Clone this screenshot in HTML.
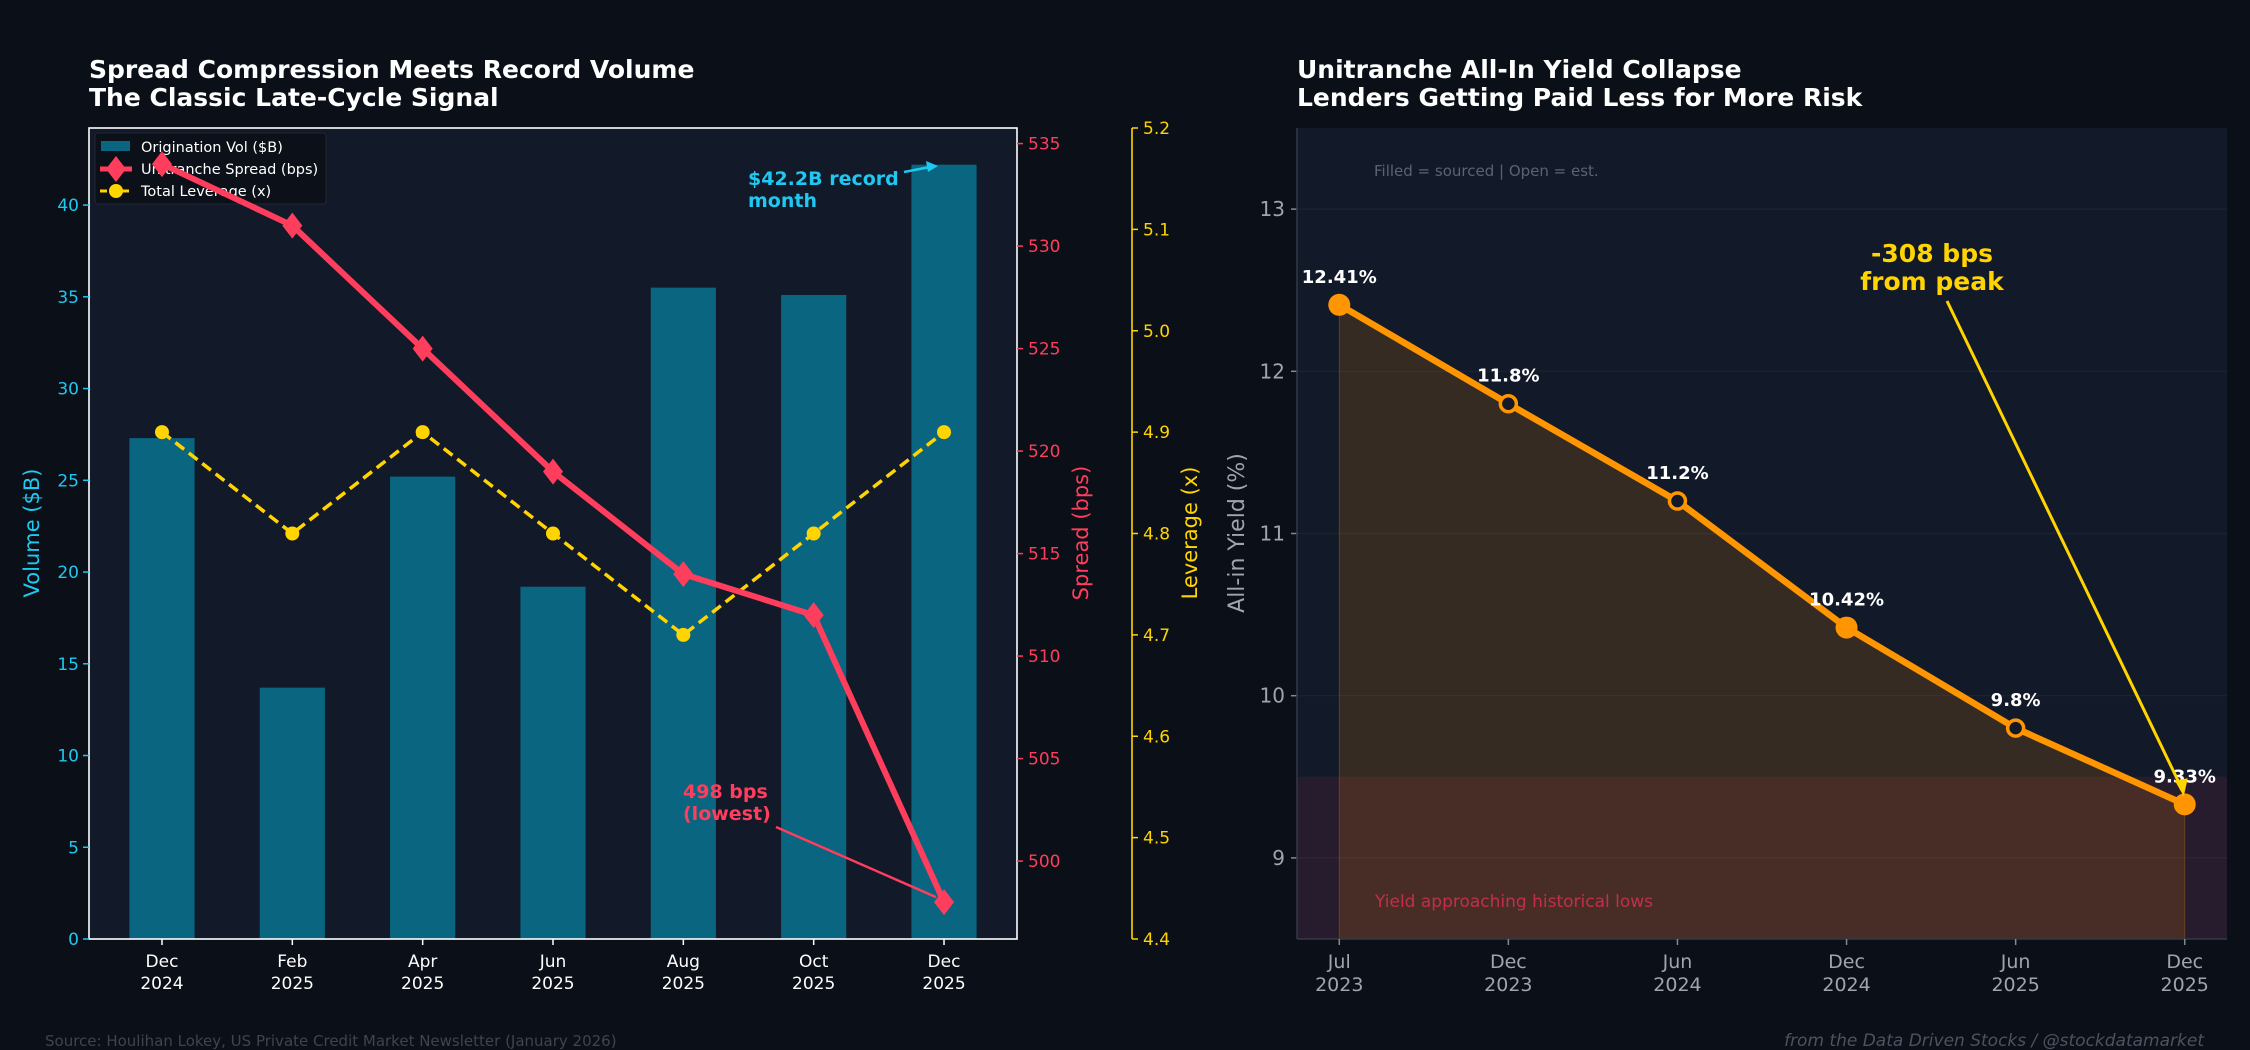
<!DOCTYPE html>
<html><head><meta charset="utf-8"><style>
html,body{margin:0;padding:0;background:#0b0f17;}
svg{display:block;font-family:"DejaVu Sans","Liberation Sans",sans-serif;}
</style></head><body>
<svg id="s" width="2250" height="1050" viewBox="0 0 2250 1050">
<rect width="2250" height="1050" fill="#0b0f17"/>
<g id="L"></g>
<g id="R"></g>
<text x="45" y="1046" font-size="15" fill="#3e4450">Source: Houlihan Lokey, US Private Credit Market Newsletter (January 2026)</text>
<text x="2204" y="1046" font-size="17" fill="#4c5260" font-style="italic" text-anchor="end">from the Data Driven Stocks / @stockdatamarket</text>
</svg>
<script>
const months=["Dec\n2024","Feb\n2025","Apr\n2025","Jun\n2025","Aug\n2025","Oct\n2025","Dec\n2025"];
const volumes=[27.3,13.7,25.2,19.2,35.5,35.1,42.2];
const spreads=[534,531,525,519,514,512,498];
const leverage=[4.9,4.8,4.9,4.8,4.7,4.8,4.9];
const volTicks=[0,5,10,15,20,25,30,35,40];
const spreadTicks=[500,505,510,515,520,525,530,535];
const levTicks=[4.4,4.5,4.6,4.7,4.8,4.9,5.0,5.1,5.2];
const yieldDates=["Jul\n2023","Dec\n2023","Jun\n2024","Dec\n2024","Jun\n2025","Dec\n2025"];
const yields=[12.41,11.8,11.2,10.42,9.8,9.33];
const sourced=[true,false,false,true,false,true];
const yieldLabels=["12.41%","11.8%","11.2%","10.42%","9.8%","9.33%"];
const yieldTicks=[9,10,11,12,13];

const NS="http://www.w3.org/2000/svg";
function mk(p,t,a){const e=document.createElementNS(NS,t);for(const k in a)e.setAttribute(k,a[k]);p.appendChild(e);return e;}
function txt(p,x,y,s,a){const e=mk(p,'text',Object.assign({x:x,y:y},a));e.textContent=s;return e;}
function multi(p,x,y,s,lh,a){s.split("\n").forEach((l,i)=>txt(p,x,y+i*lh,l,a));}

// ---- left chart
const L=document.getElementById('L');
const lx0=89,lx1=1017,ly0=128,ly1=939;
const xL=i=>lx0+(i+0.56)/(7.12)*(lx1-lx0);
const yV=v=>ly1-v/44.2*(ly1-ly0);
const yS=v=>ly1-(v-496.2)/(535.76-496.2)*(ly1-ly0);
const yLv=v=>ly1-(v-4.4)/0.8*(ly1-ly0);
const bw=(lx1-lx0)/7.12*0.5;
let r=mk(L,'rect',{x:lx0,y:ly0,width:lx1-lx0,height:ly1-ly0,fill:'#121929'});


volumes.forEach((v,i)=>{const b=mk(L,'rect',{x:xL(i)-bw/2,y:yV(v),width:bw,height:ly1-yV(v),fill:'#0a6680'});

});
// legend (drawn below line series)
const lg=mk(L,'g',{});


mk(lg,'rect',{x:95,y:133,width:231,height:71,fill:'#0b0f17',stroke:'#222833','fill-opacity':0.9,rx:3});
mk(lg,'rect',{x:101,y:141,width:29,height:10,fill:'#0a6680'});
txt(lg,141,152,'Origination Vol ($B)',{'font-size':14.5,fill:'#fff'});
mk(lg,'line',{x1:100,x2:132,y1:169,y2:169,stroke:'#ff3d5c','stroke-width':5});
mk(lg,'polygon',{points:'116,156 126,169 116,182 106,169',fill:'#ff3d5c'});
txt(lg,141,174,'Unitranche Spread (bps)',{'font-size':14.5,fill:'#fff'});
mk(lg,'line',{x1:100,x2:132,y1:191,y2:191,stroke:'#ffd400','stroke-width':3,'stroke-dasharray':'7,4'});
mk(lg,'circle',{cx:116,cy:191,r:7,fill:'#ffd400'});
txt(lg,141,196,'Total Leverage (x)',{'font-size':14.5,fill:'#fff'});
// leverage
let lp=mk(L,'polyline',{points:leverage.map((v,i)=>xL(i)+','+yLv(v)).join(' '),fill:'none',stroke:'#ffd400','stroke-width':3.5,'stroke-dasharray':'11,6'});


leverage.forEach((v,i)=>{const c=mk(L,'circle',{cx:xL(i),cy:yLv(v),r:7,fill:'#ffd400'});

});
// spread
let sp=mk(L,'polyline',{points:spreads.map((v,i)=>xL(i)+','+yS(v)).join(' '),fill:'none',stroke:'#ff3d5c','stroke-width':6,'stroke-linejoin':'round'});


spreads.forEach((v,i)=>{const x=xL(i),y=yS(v);const d=mk(L,'polygon',{points:`${x},${y-13} ${x+10},${y} ${x},${y+13} ${x-10},${y}`,fill:'#ff3d5c'});

});
// spines
mk(L,'rect',{x:lx0,y:ly0,width:lx1-lx0,height:ly1-ly0,fill:'none',stroke:'#ffffff','stroke-width':1.6});
mk(L,'line',{x1:1132,y1:ly0,x2:1132,y2:ly1,stroke:'#ffd400','stroke-width':1.6});
volTicks.forEach(v=>{mk(L,'line',{x1:lx0-6,x2:lx0,y1:yV(v),y2:yV(v),stroke:'#1ec8f0','stroke-width':1.5});
const t=txt(L,lx0-10,yV(v)+6,String(v),{'font-size':17,fill:'#1ec8f0','text-anchor':'end'});

});
spreadTicks.forEach(v=>{mk(L,'line',{x1:lx1,x2:lx1+6,y1:yS(v),y2:yS(v),stroke:'#ff3d5c','stroke-width':1.5});
const t=txt(L,lx1+11,yS(v)+6,String(v),{'font-size':17,fill:'#ff3d5c'});

});
levTicks.forEach(v=>{mk(L,'line',{x1:1132,x2:1138,y1:yLv(v),y2:yLv(v),stroke:'#ffd400','stroke-width':1.5});
const t=txt(L,1143,yLv(v)+6,v.toFixed(1),{'font-size':17,fill:'#ffd400'});

});
months.forEach((m,i)=>{mk(L,'line',{x1:xL(i),x2:xL(i),y1:ly1,y2:ly1+6,stroke:'#fff','stroke-width':1.5});
multi(L,xL(i),ly1+28,m,22,{'font-size':17,fill:'#ffffff','text-anchor':'middle'});});
let a;
a=txt(L,0,0,'Volume ($B)',{'font-size':21,fill:'#1ec8f0','text-anchor':'middle',transform:'translate(39,533) rotate(-90)'});

a=txt(L,0,0,'Spread (bps)',{'font-size':21,fill:'#ff3d5c','text-anchor':'middle',transform:'translate(1088,533) rotate(-90)'});

a=txt(L,0,0,'Leverage (x)',{'font-size':21,fill:'#ffd400','text-anchor':'middle',transform:'translate(1197,533) rotate(-90)'});

txt(L,89,78,'Spread Compression Meets Record Volume',{'font-size':25,'font-weight':'bold',fill:'#fff'});
txt(L,89,106,'The Classic Late-Cycle Signal',{'font-size':25,'font-weight':'bold',fill:'#fff'});
// annotations
multi(L,748,185,'$42.2B record\nmonth',22,{'font-size':19,'font-weight':'bold',fill:'#1ec8f0'});
mk(L,'line',{x1:904,y1:172,x2:930,y2:167,stroke:'#1ec8f0','stroke-width':2.5});
mk(L,'polygon',{points:'938,166 926,161 928,172',fill:'#1ec8f0'});
multi(L,683,798,'498 bps\n(lowest)',22,{'font-size':19,'font-weight':'bold',fill:'#ff3d5c'});
const pl=[xL(6),yS(spreads[6])];
mk(L,'line',{x1:776,y1:827,x2:pl[0]-8,y2:pl[1]-5,stroke:'#ff3d5c','stroke-width':2.5});

// ---- right chart
const R=document.getElementById('R');
const rx0=1297,rx1=2227,ry0=128,ry1=939;
const xR=i=>rx0+(i+0.25)/5.5*(rx1-rx0);
const yY=v=>ry1-(v-8.5)/5*(ry1-ry0);
r=mk(R,'rect',{x:rx0,y:ry0,width:rx1-rx0,height:ry1-ry0,fill:'#121929'});


yieldTicks.forEach(v=>{mk(R,'line',{x1:rx0,x2:rx1,y1:yY(v),y2:yY(v),stroke:'#1c2333','stroke-width':1.2});
mk(R,'line',{x1:rx0-6,x2:rx0,y1:yY(v),y2:yY(v),stroke:'#888','stroke-width':1.5});
const t=txt(R,rx0-12,yY(v)+7,String(v),{'font-size':20,fill:'#a0a4ab','text-anchor':'end'});

});
let band=mk(R,'rect',{x:rx0,y:yY(9.5),width:rx1-rx0,height:ry1-yY(9.5),fill:'#ff3d5c','fill-opacity':0.09});


let ar=mk(R,'polygon',{points:xR(0)+','+ry1+' '+yields.map((v,i)=>xR(i)+','+yY(v)).join(' ')+' '+xR(5)+','+ry1,fill:'#ff9500','fill-opacity':0.15,stroke:'#ff9500','stroke-opacity':0.25});


let yl=mk(R,'polyline',{points:yields.map((v,i)=>xR(i)+','+yY(v)).join(' '),fill:'none',stroke:'#ff9500','stroke-width':6.5,'stroke-linejoin':'round'});


yields.forEach((v,i)=>{let c;
if(sourced[i]) c=mk(R,'circle',{cx:xR(i),cy:yY(v),r:11,fill:'#ff9500'});
else c=mk(R,'circle',{cx:xR(i),cy:yY(v),r:8,fill:'#121929',stroke:'#ff9500','stroke-width':3.5});


const t=txt(R,xR(i),yY(v)-22,yieldLabels[i],{'font-size':18,'font-weight':'bold',fill:'#fff','text-anchor':'middle'});

});
mk(R,'line',{x1:rx0,x2:rx0,y1:ry0,y2:ry1,stroke:'#333946','stroke-width':1.5});
mk(R,'line',{x1:rx0,x2:rx1,y1:ry1,y2:ry1,stroke:'#333946','stroke-width':1.5});
yieldDates.forEach((m,i)=>{mk(R,'line',{x1:xR(i),x2:xR(i),y1:ry1,y2:ry1+6,stroke:'#888','stroke-width':1.5});
multi(R,xR(i),ry1+29,m,23,{'font-size':19,fill:'#a0a4ab','text-anchor':'middle'});});
a=txt(R,0,0,'All-in Yield (%)',{'font-size':22,fill:'#a0a4ab','text-anchor':'middle',transform:'translate(1244,533) rotate(-90)'});

txt(R,1297,78,'Unitranche All-In Yield Collapse',{'font-size':25,'font-weight':'bold',fill:'#fff'});
txt(R,1297,106,'Lenders Getting Paid Less for More Risk',{'font-size':25,'font-weight':'bold',fill:'#fff'});
txt(R,1374,176,'Filled = sourced  |  Open = est.',{'font-size':15,fill:'#5c6270'});
txt(R,1375,907,'Yield approaching historical lows',{'font-size':17,fill:'#c0304a'});
txt(R,1932,262,'-308 bps',{'font-size':25,'font-weight':'bold',fill:'#ffd400','text-anchor':'middle'});
txt(R,1932,290,'from peak',{'font-size':25,'font-weight':'bold',fill:'#ffd400','text-anchor':'middle'});
const pe=[xR(5),yY(yields[5])];
mk(R,'line',{x1:1947,y1:301,x2:pe[0]-3,y2:pe[1]-16,stroke:'#ffd400','stroke-width':3});
mk(R,'polygon',{points:`${pe[0]-1},${pe[1]-8} ${pe[0]-10},${pe[1]-24} ${pe[0]+3},${pe[1]-26}`,fill:'#ffd400'});
</script>
</body></html>
